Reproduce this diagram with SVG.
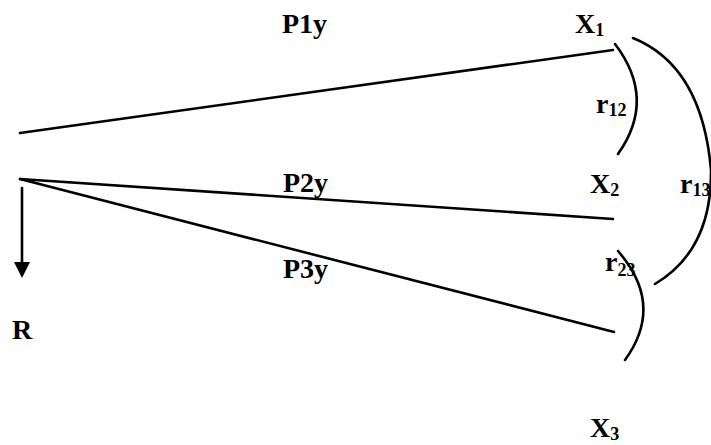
<svg xmlns="http://www.w3.org/2000/svg" width="711" height="445" viewBox="0 0 711 445">
<style>
  .lbl { font-family: "Liberation Serif", "Times New Roman", serif; font-weight: bold; font-size: 28px; fill: #000; }
  .sub { font-size: 18px; }
  .ln { stroke: #000; stroke-width: 2.6; fill: none; stroke-linecap: round; }
</style>
<rect width="711" height="445" fill="#fff"/>
<g id="connectors">
  <line class="ln" x1="20" y1="133" x2="613" y2="50"/>
  <line class="ln" x1="20" y1="179" x2="613" y2="219"/>
  <line class="ln" x1="20" y1="179" x2="614" y2="332"/>
  <line class="ln" x1="22" y1="188" x2="22" y2="264"/>
  <polygon points="14,262 30,262 22,278" fill="#000"/>
  <path class="ln" d="M615,44 Q657,99 618,154"/>
  <path class="ln" d="M633,38 Q702,66 711,170 Q712,250 655,284"/>
  <path class="ln" d="M618,251 Q665,305 625,360"/>
</g>
<g id="P1y"><text class="lbl" x="282" y="33">P1y</text></g>
<g id="P2y"><text class="lbl" x="283" y="192">P2y</text></g>
<g id="P3y"><text class="lbl" x="283" y="278">P3y</text></g>
<g id="X1"><text class="lbl" x="575" y="33">X<tspan class="sub" dy="3">1</tspan></text></g>
<g id="X2"><text class="lbl" x="590" y="193">X<tspan class="sub" dy="3">2</tspan></text></g>
<g id="X3"><text class="lbl" x="590" y="437">X<tspan class="sub" dy="3">3</tspan></text></g>
<g id="R"><text class="lbl" x="12" y="339">R</text></g>
<g id="r12"><text class="lbl" x="596" y="113">r<tspan class="sub" dy="3">12</tspan></text></g>
<g id="r13"><text class="lbl" x="680" y="193">r<tspan class="sub" dy="3">13</tspan></text></g>
<g id="r23"><text class="lbl" x="605" y="271">r<tspan class="sub" dy="5">23</tspan></text></g>
</svg>
